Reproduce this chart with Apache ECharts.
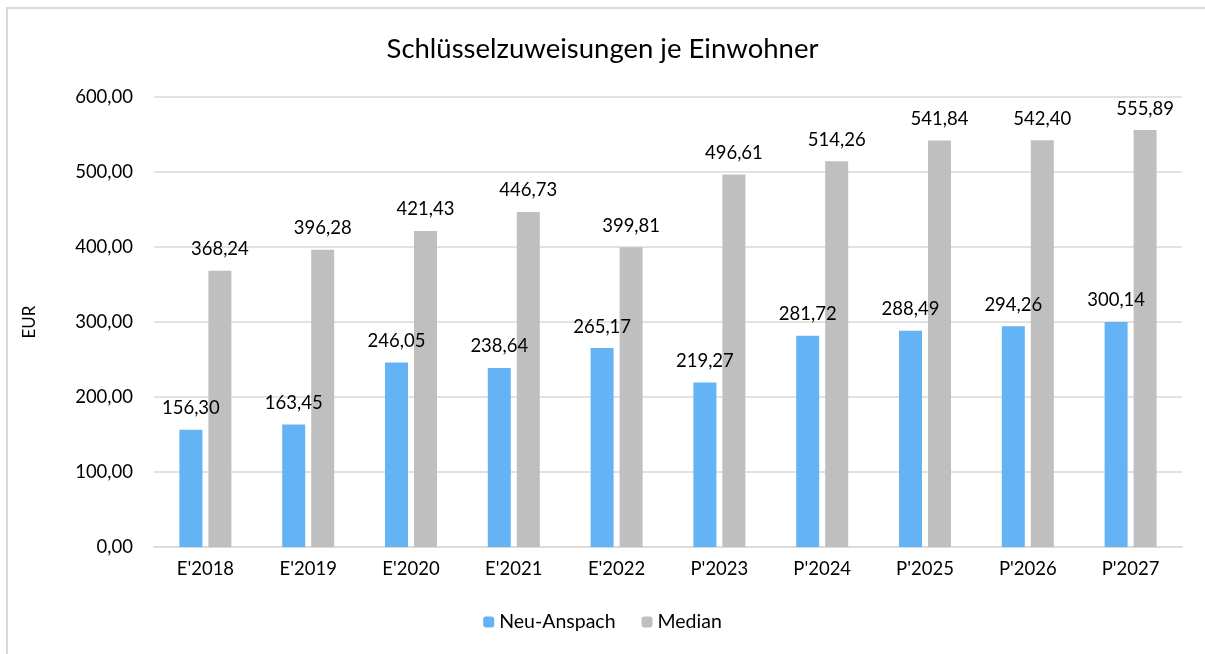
<!DOCTYPE html>
<html>
<head>
<meta charset="utf-8">
<script src="https://cdn.jsdelivr.net/npm/echarts@6/dist/echarts.min.js"></script>
<style>
	html, body { margin:0; padding:0; background:#fff; overflow:hidden; width:1205px; height:654px; }
	#frame { position:absolute; left:6px; top:7px; width:1199px; height:647px; border-left:2px solid #d9d9d9; border-top:2px solid #d9d9d9; box-sizing:border-box; }
	#chart { position:absolute; left:0; top:0; width:1205px; height:654px; }
</style>
</head>
<body>
<div id="frame"></div>
<div id="chart"></div>
<script>
var years = ["E'2018", "E'2019", "E'2020", "E'2021", "E'2022", "P'2023", "P'2024", "P'2025", "P'2026", "P'2027"];
var neuAnspach = [156.30, 163.45, 246.05, 238.64, 265.17, 219.27, 281.72, 288.49, 294.26, 300.14];
var median = [368.24, 396.28, 421.43, 446.73, 399.81, 496.61, 514.26, 541.84, 542.40, 555.89];

var font = 'Lato, "Open Sans", sans-serif';
function fmt(v){
	return v.toFixed(2).replace('.', ',');
}

var chart = echarts.init(document.getElementById("chart"));
chart.setOption({
	animation : false,
	textStyle : { fontFamily : font },
	title : {
		text : 'Schlüsselzuweisungen je Einwohner',
		left : 'center',
		top : 30,
		textStyle : { fontSize : 27.5, fontWeight : 'normal', color : '#000', fontFamily : font }
	},
	legend : {
		bottom : 17,
		left : 'center',
		itemWidth : 11,
		itemHeight : 11,
		itemGap : 26,
		textStyle : { fontSize : 19.5, color : '#000', fontFamily : font },
		data : ['Neu-Anspach', 'Median']
	},
	grid : {
		left : 154,
		right : 23,
		top : 97,
		bottom : 107
	},
	xAxis : [{
		type : 'category',
		data : years,
		axisLine : { lineStyle : { color : '#d9d9d9', width : 1.5 } },
		axisTick : { show : false },
		axisLabel : { fontSize : 18.5, color : '#000', margin : 13, fontFamily : font }
	}],
	yAxis : [{
		type : 'value',
		min : 0,
		max : 600,
		interval : 100,
		name : 'EUR',
		nameLocation : 'middle',
		nameGap : 116,
		nameTextStyle : { fontSize : 17, color : '#000', fontFamily : font },
		axisLine : { show : false },
		axisTick : { show : false },
		axisLabel : { fontSize : 18.5, color : '#000', margin : 21, formatter : function(v){ return fmt(v); }, fontFamily : font },
		splitLine : { lineStyle : { color : '#d9d9d9', width : 1.5 } }
	}],
	series : [
		{
			name : 'Neu-Anspach',
			type : 'bar',
			data : neuAnspach,
			barWidth : 23,
			barGap : '26%',
			itemStyle : { color : '#63b3f5' },
			label : { show : true, position : 'top', distance : 12, fontSize : 18.5, color : '#000', formatter : function(p){ return fmt(p.value); }, fontFamily : font }
		},
		{
			name : 'Median',
			type : 'bar',
			data : median,
			barWidth : 23,
			itemStyle : { color : '#bfbfbf' },
			label : { show : true, position : 'top', distance : 12, fontSize : 18.5, color : '#000', formatter : function(p){ return fmt(p.value); }, fontFamily : font }
		}
	]
});
</script>
</body>
</html>
